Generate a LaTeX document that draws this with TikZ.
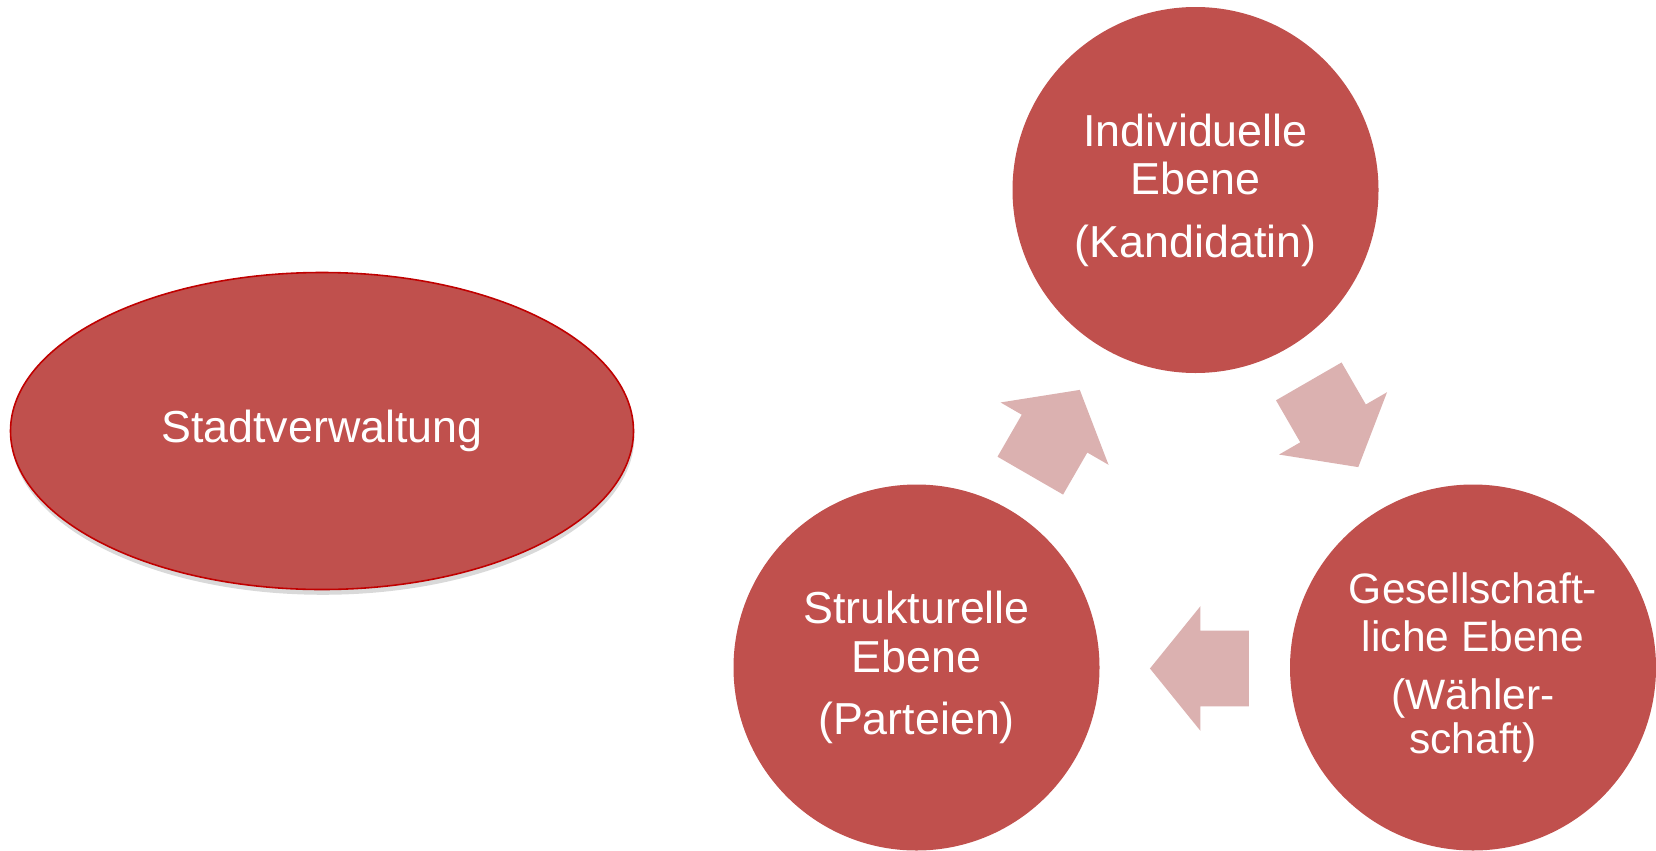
\documentclass[tikz,border=0pt]{standalone}
\usepackage{fontspec}
\setmainfont{Liberation Sans}
\usetikzlibrary{shapes.geometric, shapes.arrows, shadows}

\definecolor{levelred}{RGB}{192,80,77}
\definecolor{rimred}{RGB}{192,0,0}
\definecolor{arrowpink}{RGB}{219,177,176}

\begin{document}
\begin{tikzpicture}[
    every node/.style={font=\fontsize{25.5}{27.6}\selectfont, text=white, align=center},
    level/.style={circle, fill=levelred, minimum size=7.32cm, inner sep=0pt},
    office/.style={ellipse, fill=levelred, draw=rimred, line width=0.9pt,
        minimum width=12.46cm, minimum height=6.34cm,
        drop shadow={shadow xshift=0.5pt, shadow yshift=-3pt, opacity=0.3}},
    cyclearrow/.style={single arrow, fill=arrowpink, draw=none, inner sep=0pt,
        text height=0.75cm, text depth=0.75cm, text width=0pt, anchor=tip,
        minimum height=1.98cm, minimum width=2.48cm,
        single arrow head extend=0.49cm, single arrow tip angle=102}
]
   \useasboundingbox (0,0) rectangle (33.12,-17);

   % Stadt
   \node[office] (stadt) at (6.44,-8.62) {Stadtverwaltung};

   % Ebenen
   \node[level] (indiv) at (23.91,-3.80) {Individuelle\\Ebene\\[8pt](Kandidatin)};
   \node[level] (struct) at (18.33,-13.35) {Strukturelle\\Ebene\\[8pt](Parteien)};
   \node[level, font=\fontsize{24.2}{27.6}\selectfont] (gesell) at (29.46,-13.35) {Gesellschaft-\\liche Ebene\\[5pt](Wähler-\\[-2.4pt]schaft)};

   % Kreislauf
   \node[cyclearrow, rotate=60] (a1) at (21.60,-7.79) {};
   \node[cyclearrow, rotate=-60] (a2) at (27.17,-9.35) {};
   \node[cyclearrow, rotate=180] (a3) at (22.99,-13.37) {};
\end{tikzpicture}
\end{document}
